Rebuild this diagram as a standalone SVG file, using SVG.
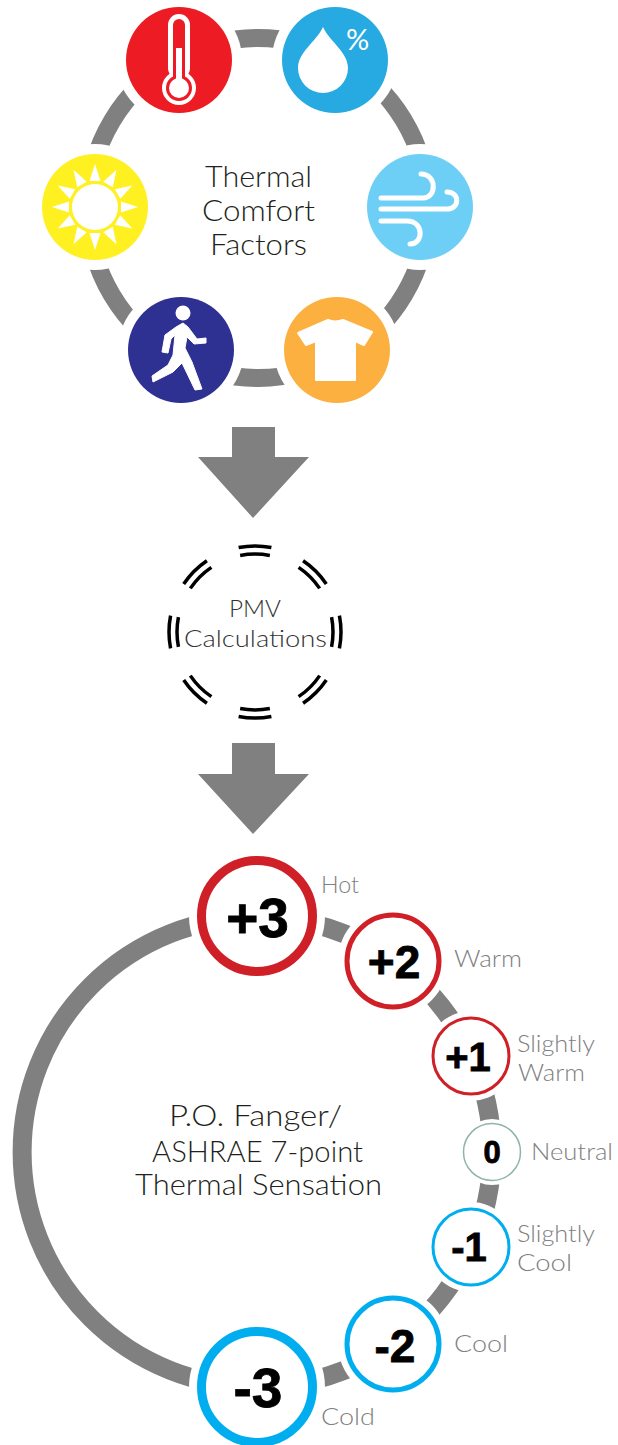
<svg xmlns="http://www.w3.org/2000/svg" xmlns:xlink="http://www.w3.org/1999/xlink" width="618" height="1445" viewBox="0 0 618 1445">
<style>
.arc{fill:none;stroke:#808080;stroke-width:18}
.arc2{fill:none;stroke:#808080;stroke-width:19}
.arrow{fill:#808080}
.halo{fill:#fff}
.w{fill:#fff}
.ws{fill:none;stroke:#fff;stroke-linecap:round;stroke-linejoin:round}
.ttl{font-family:Lato,"Open Sans",sans-serif;font-weight:300;fill:#231f20;font-size:30px}
.pmv{font-family:Lato,"Open Sans",sans-serif;font-weight:300;fill:#333;font-size:23px}
.lbl{font-family:Lato,"Open Sans",sans-serif;font-weight:300;fill:#808080;font-size:23px}
.num{font-family:"Liberation Sans",Arial,sans-serif;font-weight:700;fill:#000;stroke:#000;stroke-width:.8;text-anchor:middle}
.pt{fill:#fff}
.dash{fill:none;stroke:#000;stroke-width:3.5}
</style>
<defs><polygon id="ray" class="w" points="89.500,181 100.500,181 95,164"/></defs>
<rect width="618" height="1445" fill="#fff"/>
<g id="connectors">
<path class="arc" d="M178 58A170 170 0 0 1 336.5 57"/>
<path class="arc" d="M336.5 57A170 170 0 0 1 428 208"/>
<path class="arc" d="M428 208A170 170 0 0 1 340.6 356.5"/>
<path class="arc" d="M340.6 356.5A170 170 0 0 1 177 357.5"/>
<path class="arc" d="M177 357.5A170 170 0 0 1 88 208"/>
<path class="arc" d="M88 208A170 170 0 0 1 178 58"/>
<polygon class="arrow" points="232,427 275,427 275,457 309,457 253,518 198,457 232,457"/>
<polygon class="arrow" points="232,743 275,743 275,774 309,774 253,834 198,774 232,774"/>
<path class="arc2" d="M257 917A235 235 0 0 1 393.3 960.6"/>
<path class="arc2" d="M393.3 960.6A235 235 0 0 1 471.3 1056.4"/>
<path class="arc2" d="M471.3 1056.4A235 235 0 0 1 492 1152"/>
<path class="arc2" d="M492 1152A235 235 0 0 1 471.3 1247.6"/>
<path class="arc2" d="M471.3 1247.6A235 235 0 0 1 393.3 1343.4"/>
<path class="arc2" d="M393.3 1343.4A235 235 0 0 1 257 1387"/>
<path class="arc2" d="M257 1387A235 235 0 0 1 257 917"/>
</g>
<g id="node-temperature">
<circle class="halo" cx="179" cy="60" r="63"/>
<circle cx="179" cy="60" r="53" fill="#ed1c24"/>
<rect class="w" x="168" y="14" width="22" height="65" rx="11"/><circle class="w" cx="179" cy="88" r="17"/>
<rect x="173" y="19" width="12" height="65" rx="6" fill="#ed1c24"/><circle cx="179" cy="88" r="13" fill="#ed1c24"/>
<rect class="w" x="176" y="48" width="6" height="32"/><circle class="w" cx="179" cy="88" r="10"/>
</g>
<g id="node-humidity">
<circle class="halo" cx="335" cy="60" r="63"/>
<circle cx="335" cy="60" r="53" fill="#27aae1"/>
<path class="w" d="M323 27C316 42 298 52 298 68A25 25 0 0 0 348 68C348 52 330 42 323 27Z"/>
<text x="346" y="50" font-family="Lato,sans-serif" font-size="29" fill="#fff">%</text>
</g>
<g id="node-wind">
<circle class="halo" cx="420" cy="207" r="63"/>
<circle cx="420" cy="207" r="53" fill="#6dcff6"/>
<path class="ws" stroke-width="5" d="M381 198H423C437 198 437 174 421 174M381 209H447C460 209 460 192 447 192M381 221H407C424 221 424 244 410 244"/>
</g>
<g id="node-clothing">
<circle class="halo" cx="337" cy="350" r="63"/>
<circle cx="337" cy="350" r="53" fill="#fbb040"/>
<path class="w" stroke="#fff" stroke-width="2" stroke-linejoin="round" d="M328 320Q335 323 343 320L372 332L364 345L355 341V380H316V341L306 345L298 333Z"/>
</g>
<g id="node-activity">
<circle class="halo" cx="181" cy="350" r="63"/>
<circle cx="181" cy="350" r="53" fill="#2e3192"/>
<circle class="w" cx="183" cy="313" r="7.5"/>
<polygon class="w" stroke="#fff" stroke-width="1" stroke-linejoin="round" points="176,327 165,335 162,352 168,353 171,339 175,335 173,355 168,365 152,376 153,382 173,372 182,363 195,390 202,389 192,362 185,348 187,337 194,344 206,343 206,338 197,339 188,327 183,323"/>
</g>
<g id="node-radiant">
<circle class="halo" cx="95" cy="207" r="63"/>
<circle cx="95" cy="207" r="53" fill="#fff022"/>
<circle class="w" cx="95" cy="207" r="23"/>
<use xlink:href="#ray"/><use xlink:href="#ray" transform="rotate(30 95 207)"/><use xlink:href="#ray" transform="rotate(60 95 207)"/><use xlink:href="#ray" transform="rotate(90 95 207)"/><use xlink:href="#ray" transform="rotate(120 95 207)"/><use xlink:href="#ray" transform="rotate(150 95 207)"/><use xlink:href="#ray" transform="rotate(180 95 207)"/><use xlink:href="#ray" transform="rotate(210 95 207)"/><use xlink:href="#ray" transform="rotate(240 95 207)"/><use xlink:href="#ray" transform="rotate(270 95 207)"/><use xlink:href="#ray" transform="rotate(300 95 207)"/><use xlink:href="#ray" transform="rotate(330 95 207)"/>
</g>
<g id="title-factors">
<text class="ttl" x="205" y="187" textLength="107" lengthAdjust="spacingAndGlyphs">Thermal</text>
<text class="ttl" x="202" y="221" textLength="113" lengthAdjust="spacingAndGlyphs">Comfort</text>
<text class="ttl" x="210" y="255" textLength="97" lengthAdjust="spacingAndGlyphs">Factors</text>
</g>
<g id="node-pmv">
<circle class="dash" cx="255" cy="632" r="86" pathLength="360" stroke-dasharray="22 23" stroke-dashoffset="11"/>
<circle class="dash" cx="255" cy="632" r="78" pathLength="360" stroke-dasharray="22 23" stroke-dashoffset="11"/>
<text class="pmv" x="229" y="617" textLength="52" lengthAdjust="spacingAndGlyphs">PMV</text>
<text class="pmv" x="184" y="647" textLength="143" lengthAdjust="spacingAndGlyphs">Calculations</text>
</g>
<g id="title-sensation">
<text class="ttl" x="169" y="1126" textLength="173" lengthAdjust="spacingAndGlyphs">P.O. Fanger/</text>
<text class="ttl" x="152" y="1162" textLength="211" lengthAdjust="spacingAndGlyphs">ASHRAE 7-point</text>
<text class="ttl" x="135" y="1195" textLength="247" lengthAdjust="spacingAndGlyphs">Thermal Sensation</text>
</g>
<g id="node-p3">
<circle class="halo" cx="257" cy="916" r="68"/>
<circle class="pt" cx="257" cy="916" r="55.5" stroke="#cf2027" stroke-width="9"/>
<text class="num" x="257.500" y="937" font-size="55">+3</text>
<text class="lbl" x="321" y="893" textLength="38" lengthAdjust="spacingAndGlyphs">Hot</text>
</g>
<g id="node-p2">
<circle class="halo" cx="393" cy="961" r="55"/>
<circle class="pt" cx="393" cy="961" r="46" stroke="#cf2027" stroke-width="5"/>
<text class="num" x="394" y="978" font-size="46">+2</text>
<text class="lbl" x="454" y="967" textLength="68" lengthAdjust="spacingAndGlyphs">Warm</text>
</g>
<g id="node-p1">
<circle class="halo" cx="471" cy="1056" r="45"/>
<circle class="pt" cx="471" cy="1056" r="38" stroke="#cf2027" stroke-width="3"/>
<text class="num" x="468" y="1071" font-size="40">+1</text>
<text class="lbl" x="517" y="1052" textLength="78" lengthAdjust="spacingAndGlyphs">Slightly</text>
<text class="lbl" x="518" y="1081" textLength="67" lengthAdjust="spacingAndGlyphs">Warm</text>
</g>
<g id="node-0">
<circle class="halo" cx="492" cy="1152" r="33"/>
<circle class="pt" cx="492" cy="1152" r="28.500" stroke="#8fb5a8" stroke-width="1.500"/>
<text class="num" x="492" y="1163" font-size="31">0</text>
<text class="lbl" x="531" y="1160" textLength="82" lengthAdjust="spacingAndGlyphs">Neutral</text>
</g>
<g id="node-m1">
<circle class="halo" cx="471" cy="1247" r="45"/>
<circle class="pt" cx="471" cy="1247" r="38" stroke="#00aeef" stroke-width="3"/>
<text class="num" x="469" y="1261" font-size="40">-1</text>
<text class="lbl" x="517" y="1242" textLength="78" lengthAdjust="spacingAndGlyphs">Slightly</text>
<text class="lbl" x="517" y="1271" textLength="55" lengthAdjust="spacingAndGlyphs">Cool</text>
</g>
<g id="node-m2">
<circle class="halo" cx="393" cy="1344" r="55"/>
<circle class="pt" cx="393" cy="1344" r="46" stroke="#00aeef" stroke-width="5"/>
<text class="num" x="395" y="1362" font-size="46">-2</text>
<text class="lbl" x="454" y="1352" textLength="54" lengthAdjust="spacingAndGlyphs">Cool</text>
</g>
<g id="node-m3">
<circle class="halo" cx="257" cy="1387" r="68"/>
<circle class="pt" cx="257" cy="1387" r="55.5" stroke="#00aeef" stroke-width="9"/>
<text class="num" x="258" y="1407" font-size="55">-3</text>
<text class="lbl" x="321" y="1425" textLength="54" lengthAdjust="spacingAndGlyphs">Cold</text>
</g>
</svg>
